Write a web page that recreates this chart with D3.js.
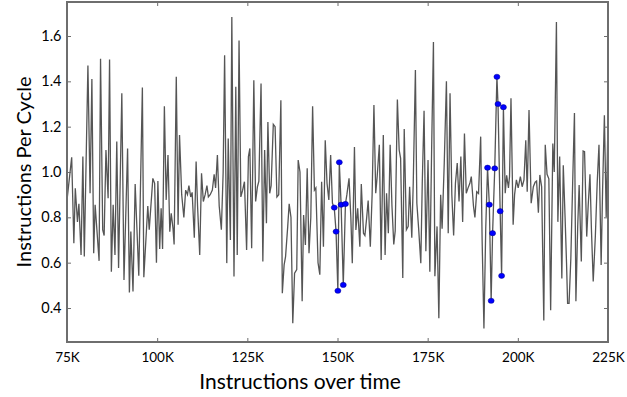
<!DOCTYPE html>
<html>
<head>
<meta charset="utf-8">
<script src="https://cdn.jsdelivr.net/npm/d3@7"></script>
<style>
  body { margin: 0; background: #fff; }
  text { font-family: Lato, "Open Sans", sans-serif; fill: #000; }
</style>
</head>
<body>
<div id="vis"></div>
<script>
// instructions (in thousands) and IPC
const instrK = [
  75.1, 76.3, 76.9, 77.3, 77.9, 78.3, 78.9, 79.4, 79.8, 80.8, 81.4, 81.9, 82.4, 82.8, 83.9, 84.3, 84.9, 85.3, 85.8, 86.4,
  86.8, 87.3, 87.8, 88.3, 88.8, 89.3, 90.2, 90.8, 91.8, 92.3, 92.7, 93.3, 93.9, 94.9, 95.9, 96.3, 97.4, 97.8, 98.8, 99.3,
  99.8, 100.2, 100.7, 101.1, 101.5, 102.0, 102.5, 103.0, 103.5, 103.9, 104.4, 104.7, 105.3, 105.8, 106.2, 106.8, 107.4, 107.9, 108.4, 108.8,
  109.3, 109.7, 110.3, 110.8, 111.2, 111.8, 112.3, 112.8, 113.3, 113.8, 114.2, 114.7, 115.3, 115.8, 116.2, 116.7, 117.2, 117.8, 118.3, 118.7,
  119.3, 119.7, 120.3, 120.7, 121.3, 121.8, 122.2, 122.7, 123.2, 123.7, 124.2, 124.8, 125.3, 125.7, 126.2, 126.8, 127.3, 127.8, 128.2, 128.8,
  129.3, 129.8, 130.3, 130.7, 131.2, 131.6, 132.2, 132.7, 133.2, 133.7, 134.3, 134.7, 135.2, 135.6, 136.2, 136.6, 137.1, 137.6, 138.1, 138.7,
  139.1, 139.6, 140.2, 140.6, 141.1, 141.6, 142.1, 142.6, 143.1, 143.6, 144.0, 144.6, 145.1, 145.6, 146.1, 146.6, 147.1, 147.6, 148.1, 148.6,
  149.1, 149.6, 150.1, 150.5, 151.0, 151.6, 152.2, 152.6, 153.2, 153.7, 154.1, 154.7, 155.1, 155.6, 156.2, 156.6, 157.2, 157.6, 158.1, 158.5,
  159.1, 159.6, 160.1, 160.6, 161.0, 161.6, 162.1, 162.7, 163.2, 163.6, 164.1, 164.6, 165.1, 165.6, 166.0, 166.6, 167.1, 167.5, 168.1, 168.5,
  169.1, 169.6, 170.0, 170.6, 171.0, 171.6, 172.0, 172.5, 173.1, 173.5, 174.0, 174.5, 175.1, 175.6, 176.1, 176.6, 177.0, 177.6, 178.1, 178.6,
  179.0, 179.6, 180.2, 180.7, 181.2, 181.7, 182.2, 182.7, 183.2, 183.7, 184.2, 184.7, 185.2, 185.7, 186.2, 186.7, 187.1, 187.7, 188.1, 188.6,
  189.1, 189.7, 190.1, 190.6, 191.1, 191.6, 192.1, 192.6, 193.0, 193.6, 194.2, 194.5, 195.1, 195.5, 196.0, 196.5, 196.9, 197.4, 197.7, 198.1,
  198.7, 199.1, 199.6, 200.1, 200.7, 201.2, 201.7, 202.2, 202.6, 203.1, 203.7, 204.3, 204.8, 205.2, 205.7, 206.1, 206.6, 207.2, 207.6, 208.1,
  208.6, 209.1, 209.7, 210.1, 210.7, 211.1, 211.6, 212.2, 212.6, 213.1, 213.5, 213.8, 214.2, 214.7, 215.2, 215.7, 216.1, 216.6, 217.0, 217.6,
  218.1, 218.5, 219.1, 219.5, 220.0, 220.4, 220.9, 221.5, 222.0, 222.5, 223.1, 223.5, 224.0, 224.5, 224.9
];
const ipc = [
  0.89, 1.065, 0.686, 0.928, 0.78, 0.86, 0.634, 1.068, 0.627, 1.47, 0.906, 1.41, 0.642, 0.855, 0.608, 1.50, 0.745, 0.72, 1.097, 0.884,
  1.496, 0.56, 0.855, 0.634, 1.134, 0.576, 1.347, 0.524, 1.104, 0.468, 0.737, 0.473, 0.947, 0.542, 1.373, 0.536, 0.85, 0.745, 0.972, 0.95,
  0.60, 0.96, 0.66, 0.84, 0.66, 1.29, 0.877, 1.075, 0.737, 0.818, 0.75, 0.68, 1.42, 0.767, 1.163, 0.90, 0.80, 0.92, 0.90, 0.94,
  0.89, 0.91, 0.71, 1.046, 0.85, 0.634, 0.994, 0.87, 0.90, 0.94, 0.89, 0.90, 0.92, 0.99, 0.93, 1.075, 0.85, 0.745, 1.0, 1.515,
  0.598, 1.148, 0.70, 1.684, 0.539, 1.376, 0.634, 1.58, 0.89, 0.92, 0.957, 0.656, 1.068, 1.104, 0.664, 1.405, 0.87, 0.935, 0.96, 1.39,
  0.605, 1.097, 0.774, 1.22, 0.906, 0.94, 1.21, 1.20, 0.89, 0.90, 1.317, 0.465, 0.59, 0.627, 0.76, 0.86, 0.80, 0.333, 0.554, 0.57,
  1.053, 1.0, 0.43, 0.81, 0.678, 1.016, 0.642, 0.80, 1.29, 0.92, 0.93, 0.60, 0.547, 0.957, 0.67, 1.14, 0.95, 0.877, 1.075, 0.862,
  0.843, 0.737, 0.476, 1.043, 0.856, 0.502, 0.859, 0.90, 0.972, 0.80, 0.598, 1.11, 0.744, 0.84, 0.67, 0.947, 0.73, 0.72, 0.80, 0.874,
  0.67, 0.90, 1.295, 0.906, 0.98, 1.12, 0.612, 1.163, 0.634, 0.906, 0.73, 1.12, 0.85, 0.68, 0.74, 1.32, 1.097, 1.06, 0.532, 1.19,
  0.745, 0.76, 0.935, 0.71, 0.95, 1.45, 0.862, 0.75, 0.598, 0.95, 1.27, 0.65, 1.053, 0.56, 1.10, 1.574, 0.54, 0.76, 0.355, 0.90,
  0.75, 1.04, 1.40, 0.73, 1.347, 0.90, 0.72, 0.95, 1.04, 0.87, 1.068, 0.78, 1.17, 0.906, 0.93, 0.95, 0.98, 0.85, 0.80, 0.913,
  0.905, 1.156, 0.70, 0.31, 0.75, 1.019, 0.856, 0.432, 0.73, 1.016, 1.42, 1.30, 0.827, 0.542, 1.286, 0.906, 0.985, 0.93, 0.98, 1.325,
  0.767, 0.90, 0.965, 0.93, 0.98, 0.935, 0.965, 1.14, 0.913, 1.273, 0.862, 0.935, 0.955, 0.96, 0.82, 0.987, 0.935, 0.345, 1.12, 0.99,
  0.97, 0.39, 1.126, 1.0, 1.662, 0.78, 1.068, 0.53, 1.03, 0.80, 0.60, 0.42, 0.42, 0.62, 0.95, 1.26, 0.43, 0.76, 0.943, 0.605,
  1.093, 1.09, 0.715, 0.85, 0.99, 0.75, 0.517, 0.72, 0.95, 1.12, 0.59, 0.92, 1.25, 0.80, 1.14
];
// highlighted samples (blue markers)
const dotK = [149.1, 149.6, 150.1, 150.5, 151.0, 151.6, 152.2,
  191.6, 192.1, 192.6, 193.0, 193.6, 194.2, 194.5, 195.1, 195.5, 196.0];
const dotIpc = [0.843, 0.737, 0.476, 1.043, 0.856, 0.502, 0.859,
  1.019, 0.856, 0.432, 0.73, 1.016, 1.42, 1.30, 0.827, 0.542, 1.286];

const xTicks = [75, 100, 125, 150, 175, 200, 225];
const yTicks = [0.4, 0.6, 0.8, 1.0, 1.2, 1.4, 1.6];

const width = 627, height = 397;
const margin = { top: 2, right: 19, bottom: 55, left: 67 };
const iw = width - margin.left - margin.right;
const ih = height - margin.top - margin.bottom;

const svg = d3.select("#vis").append("svg")
  .attr("width", width)
  .attr("height", height);

const g = svg.append("g").attr("transform", `translate(${margin.left},${margin.top})`);

const x = d3.scaleLinear().domain([75, 225]).range([0, iw]);
const y = d3.scaleLinear().domain([0.25, 1.75]).range([ih, 0]);

const pts = instrK.map((k, i) => [k, ipc[i]]);

g.append("path")
  .datum(pts)
  .attr("fill", "none")
  .attr("stroke", "#555")
  .attr("stroke-width", 1.3)
  .attr("d", d3.line().x(d => x(d[0])).y(d => y(d[1])));

g.selectAll("ellipse.dot")
  .data(dotK.map((k, i) => [k, dotIpc[i]]))
  .join("ellipse")
  .attr("class", "dot")
  .attr("cx", d => x(d[0]))
  .attr("cy", d => y(d[1]))
  .attr("rx", 3)
  .attr("ry", 2.6)
  .attr("fill", "#0000ff")
  .attr("stroke", "#00008b")
  .attr("stroke-width", 0.5);

// inward ticks on all four sides, matplotlib style
const tickLen = 4;
const axisColor = "#6e6e6e";
const axBottom = g.append("g").attr("transform", `translate(0,${ih})`)
  .call(d3.axisBottom(x).tickValues(xTicks).tickSize(-tickLen).tickPadding(10).tickFormat(d => d + "K"));
const axTop = g.append("g")
  .call(d3.axisTop(x).tickValues(xTicks).tickSize(-tickLen).tickFormat(""));
const axLeft = g.append("g")
  .call(d3.axisLeft(y).tickValues(yTicks).tickSize(-tickLen).tickPadding(5.5).tickFormat(d3.format(".1f")));
const axRight = g.append("g").attr("transform", `translate(${iw},0)`)
  .call(d3.axisRight(y).tickValues(yTicks).tickSize(-tickLen).tickFormat(""));

[axBottom, axTop, axLeft, axRight].forEach(a => {
  a.select(".domain").remove();
  a.selectAll(".tick line").attr("stroke", axisColor);
  a.selectAll("text").attr("font-family", "'DejaVu Sans', sans-serif").attr("fill", "#000");
});
axBottom.selectAll("text").attr("font-size", 13.5);
axLeft.selectAll("text").attr("font-size", 14.5);

g.append("rect")
  .attr("width", iw)
  .attr("height", ih)
  .attr("fill", "none")
  .attr("stroke", axisColor)
  .attr("stroke-width", 2);

svg.append("text")
  .attr("x", 300)
  .attr("y", 389)
  .attr("text-anchor", "middle")
  .attr("font-size", 21)
  .text("Instructions over time");

svg.append("text")
  .attr("transform", "translate(31,172) rotate(-90)")
  .attr("text-anchor", "middle")
  .attr("font-size", 20)
  .text("Instructions Per Cycle");
</script>
</body>
</html>
